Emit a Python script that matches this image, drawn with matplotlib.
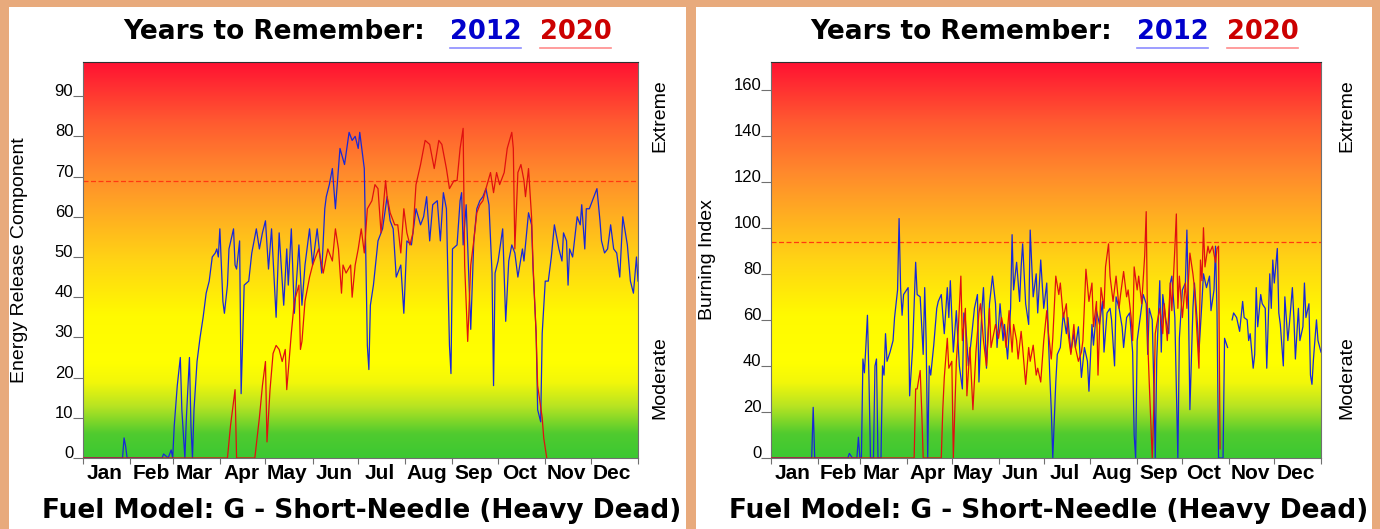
import numpy as np
import matplotlib.pyplot as plt
from matplotlib.colors import LinearSegmentedColormap
from matplotlib.patches import Rectangle
from matplotlib.lines import Line2D

W, H = 1380, 529

months = ['Jan', 'Feb', 'Mar', 'Apr', 'May', 'Jun', 'Jul', 'Aug', 'Sep', 'Oct', 'Nov', 'Dec']
month_start = [0, 31, 59, 90, 120, 151, 181, 212, 243, 273, 304, 334, 365]

# (day of year, value)
erc_2012 = [
    (0, 0), (26, 0), (27, 5), (28, 3), (29, 0), (52, 0), (53, 1), (56, 0), (58, 2), (59, 0),
    (60, 8), (62, 18), (64, 25), (65, 12), (67, 0), (68, 10), (70, 25), (71, 8), (72, 0), (73, 12),
    (75, 24), (77, 30), (79, 35), (81, 41), (83, 44), (85, 50), (87, 51), (88, 52), (89, 50), (90, 57),
    (92, 39), (93, 36), (95, 43), (96, 52), (99, 57), (100, 48), (101, 47), (103, 54), (104, 16), (106, 43),
    (109, 44), (111, 51), (114, 57), (116, 52), (118, 56), (120, 59), (122, 47), (124, 57), (127, 35), (129, 56),
    (131, 44), (132, 38), (134, 52), (135, 43), (137, 57), (139, 36), (142, 53), (144, 38), (146, 48), (149, 57),
    (151, 48), (154, 57), (157, 46), (159, 62), (160, 65), (162, 68), (164, 72), (166, 62), (169, 77), (172, 73),
    (175, 81), (177, 79), (179, 80), (181, 77), (182, 81), (185, 72), (187, 28), (188, 22), (189, 38), (191, 43),
    (194, 54), (197, 57), (200, 65), (202, 59), (204, 57), (206, 45), (209, 48), (211, 36), (213, 54), (216, 53),
    (219, 62), (222, 58), (224, 60), (226, 65), (228, 54), (230, 63), (233, 64), (235, 54), (237, 66), (239, 62),
    (241, 28), (242, 21), (243, 52), (246, 53), (248, 64), (249, 66), (250, 53), (252, 63), (254, 42), (255, 32),
    (257, 54), (259, 62), (261, 64), (263, 65), (265, 67), (267, 63), (269, 46), (270, 18), (271, 46), (273, 49),
    (276, 57), (278, 34), (280, 49), (282, 53), (284, 51), (286, 45), (289, 52), (290, 49), (293, 61), (295, 58),
    (296, 47), (298, 31), (299, 12), (301, 9), (302, 31), (304, 44), (306, 44), (308, 50), (310, 58), (313, 52),
    (315, 49), (316, 56), (318, 54), (319, 43), (320, 52), (322, 50), (325, 60), (327, 58), (328, 63), (330, 52),
    (331, 62), (333, 62), (336, 65), (338, 67), (340, 59), (341, 54), (343, 51), (345, 52), (347, 58), (349, 52),
    (351, 51), (353, 45), (355, 60), (358, 53), (360, 44), (362, 41), (364, 50), (365, 44),
]

erc_2020 = [
    (0, 0), (95, 0), (97, 8), (99, 14), (100, 17), (101, 0), (113, 0), (116, 10), (118, 18), (120, 24),
    (121, 4), (123, 17), (125, 26), (127, 28), (129, 27), (131, 24), (133, 27), (134, 17), (137, 31), (139, 39),
    (142, 43), (143, 27), (144, 29), (146, 39), (149, 45), (151, 48), (155, 52), (158, 46), (161, 52), (164, 49),
    (166, 57), (168, 52), (170, 41), (171, 48), (173, 46), (176, 48), (177, 40), (179, 48), (181, 52), (183, 57),
    (185, 51), (187, 62), (190, 64), (192, 68), (194, 67), (196, 56), (199, 69), (200, 65), (202, 61), (205, 58),
    (207, 58), (209, 51), (211, 62), (213, 56), (215, 53), (217, 56), (219, 68), (222, 73), (225, 79), (228, 78),
    (231, 72), (234, 79), (236, 78), (239, 72), (241, 67), (244, 69), (246, 69), (248, 77), (250, 82), (251, 48),
    (253, 29), (255, 48), (257, 54), (259, 61), (261, 63), (263, 64), (265, 67), (268, 71), (270, 66), (272, 71),
    (274, 68), (277, 71), (279, 77), (282, 81), (283, 77), (284, 52), (286, 71), (288, 73), (290, 69), (291, 65),
    (293, 72), (295, 60), (296, 48), (298, 31), (299, 18), (302, 10), (303, 5), (305, 0),
]

bi_2012 = [
    (0, 0), (27, 0), (28, 22), (29, 0), (51, 0), (52, 2), (54, 0), (57, 0), (58, 9), (59, 0),
    (60, 0), (61, 43), (62, 37), (63, 49), (64, 62), (65, 35), (66, 0), (68, 0), (69, 40), (70, 43),
    (71, 0), (73, 0), (74, 40), (75, 36), (76, 54), (77, 42), (79, 46), (81, 51), (82, 61), (84, 73),
    (85, 104), (86, 74), (87, 62), (88, 71), (91, 74), (92, 27), (94, 48), (96, 85), (97, 71), (99, 70),
    (101, 45), (102, 74), (103, 50), (104, 0), (105, 40), (106, 36), (108, 49), (110, 65), (111, 68), (113, 71),
    (115, 54), (117, 74), (118, 61), (119, 77), (121, 46), (123, 64), (125, 40), (127, 30), (128, 63), (129, 60),
    (131, 40), (133, 52), (135, 65), (137, 71), (138, 33), (140, 65), (141, 74), (143, 39), (145, 67), (147, 79),
    (149, 67), (150, 48), (152, 67), (154, 51), (155, 58), (157, 43), (159, 65), (160, 97), (161, 73), (163, 85),
    (165, 68), (166, 83), (167, 93), (169, 67), (171, 58), (172, 99), (174, 70), (176, 80), (177, 63), (179, 86),
    (181, 65), (183, 76), (184, 54), (185, 36), (186, 21), (187, 0), (189, 33), (190, 45), (192, 48), (194, 63),
    (196, 54), (197, 61), (199, 46), (201, 54), (202, 48), (204, 57), (206, 35), (208, 48), (210, 42), (211, 29),
    (213, 58), (214, 49), (216, 64), (218, 58), (220, 68), (221, 46), (223, 63), (225, 65), (226, 60), (228, 40),
    (229, 70), (231, 65), (233, 57), (234, 48), (236, 61), (238, 63), (240, 46), (241, 10), (242, 0), (243, 51),
    (245, 61), (247, 71), (249, 67), (250, 45), (251, 65), (253, 60), (254, 33), (255, 0), (256, 43), (258, 77),
    (259, 46), (260, 71), (262, 60), (264, 54), (265, 76), (266, 79), (268, 61), (270, 0), (271, 52), (273, 73),
    (275, 76), (276, 99), (277, 68), (278, 21), (280, 65), (281, 76), (283, 58), (284, 46), (286, 68), (287, 80),
    (289, 74), (291, 79), (292, 64), (294, 73), (295, 92), (296, 63), (297, 0), (300, 0), (301, 52), (303, 48),
    (304, np.nan), (306, 60), (307, 63), (309, 61), (310, 58), (311, 55), (313, 68), (314, 61), (316, 60), (317, 51),
    (318, 54), (320, 39), (321, 45), (322, 74), (323, 57), (325, 71), (326, 67), (328, 65), (329, 39), (331, 80),
    (332, 65), (333, 86), (334, 76), (336, 91), (337, 63), (338, 58), (340, 40), (341, 70), (343, 51), (344, 58),
    (346, 74), (347, 61), (348, 43), (350, 65), (351, 51), (353, 57), (354, 76), (355, 61), (357, 67), (358, 36),
    (359, 32), (360, 43), (362, 60), (363, 51), (365, 46),
]

bi_2020 = [
    (0, 0), (95, 0), (96, 30), (97, 30), (99, 38), (100, 21), (101, 0), (113, 0), (114, 21), (115, 35),
    (117, 52), (118, 39), (120, 42), (121, 0), (123, 42), (124, 52), (126, 79), (127, 51), (129, 65), (130, 27),
    (132, 48), (134, 21), (136, 46), (138, 63), (139, 67), (141, 51), (143, 40), (145, 65), (146, 48), (149, 58),
    (151, 52), (153, 61), (155, 54), (156, 48), (158, 64), (160, 46), (161, 58), (163, 51), (164, 43), (166, 55),
    (167, 48), (169, 32), (171, 48), (172, 42), (174, 49), (176, 36), (177, 39), (179, 33), (181, 51), (183, 64),
    (184, 55), (186, 43), (187, 52), (189, 79), (191, 71), (192, 76), (194, 61), (196, 67), (197, 55), (199, 45),
    (201, 58), (202, 48), (204, 42), (206, 46), (207, 51), (209, 82), (211, 68), (213, 76), (214, 57), (216, 68),
    (217, 36), (219, 74), (221, 65), (222, 83), (224, 93), (225, 79), (227, 68), (229, 79), (231, 65), (232, 71),
    (234, 81), (236, 70), (237, 73), (239, 61), (240, 51), (241, 83), (243, 73), (244, 79), (246, 67), (248, 88),
    (249, 107), (250, 51), (251, 33), (253, 0), (254, 21), (255, 54), (256, 58), (258, 65), (260, 54), (261, 67),
    (263, 51), (265, 76), (266, 64), (268, 91), (269, 106), (270, 65), (271, 79), (273, 61), (275, 76), (276, 65),
    (278, 89), (280, 80), (281, 74), (284, 39), (285, 86), (286, 77), (287, 100), (288, 83), (290, 92), (291, 89),
    (293, 92), (295, 85), (296, 91), (297, 92), (298, 4),
]

erc_ticks = list(range(0, 91, 10))
bi_ticks = list(range(0, 161, 20))
erc_ymax, bi_ymax = 98.5, 172
erc_limit, bi_limit = 69, 94

frame_col = '#E8AA7C'
grad_cmap = LinearSegmentedColormap.from_list('fire', [
    (0.0, '#3CC832'), (0.06, '#50CB2F'), (0.13, '#B8E422'), (0.19, '#F2F70A'),
    (0.24, '#FFFF00'), (0.36, '#FFFA00'), (0.50, '#FFD414'), (0.62, '#FFAC22'),
    (0.72, '#FF8A2C'), (0.85, '#FF5A30'), (1.0, '#FF1232')])

tick_font = 'Liberation Sans'
head_font = 'DejaVu Sans'


def fx(x):
    return x / W


def fy(y):
    return 1 - y / H


fig = plt.figure(figsize=(W / 100, H / 100), dpi=100, facecolor=frame_col)

# white panels inside the tan frame
for x0, x1 in [(9, 686), (696, 1372)]:
    fig.add_artist(Rectangle((fx(x0), 0), fx(x1) - fx(x0), fy(7), transform=fig.transFigure,
                             facecolor='white', edgecolor='none', zorder=-5))


def panel(x0, x1, off, data12, data20, ymax, yticks, limit, ylabel):
    ax = fig.add_axes([fx(x0), fy(458), fx(x1) - fx(x0), 396 / H])
    grad = np.linspace(0, 1, 256).reshape(-1, 1)
    ax.imshow(grad, extent=[0, 365, 0, ymax], origin='lower', aspect='auto',
              cmap=grad_cmap, interpolation='bilinear', zorder=0)
    ax.axhline(limit, color='#FF3A10', lw=0.9, ls=(0, (4, 2)), zorder=1)
    d, v = np.array(data12, dtype=float).T
    ax.plot(d, v, color='#1828D8', lw=0.9, zorder=2)
    d, v = np.array(data20, dtype=float).T
    ax.plot(d, v, color='#E01010', lw=0.9, zorder=3)
    ax.set_xlim(0, 365)
    ax.set_ylim(0, ymax)

    ax.set_xticks(month_start)
    ax.set_xticklabels([])
    ax.set_xticks([m + 14 for m in month_start[:-1]], minor=True)
    ax.set_xticklabels(months, minor=True, fontfamily=tick_font, fontweight='bold', fontsize=15)
    ax.tick_params(axis='x', which='major', length=4, color='#707070')
    ax.tick_params(axis='x', which='minor', length=0, pad=4)

    ax.set_yticks(yticks)
    ax.set_yticklabels([str(t) for t in yticks], fontfamily=tick_font, fontsize=12, va='baseline')
    ax.tick_params(axis='y', length=7, pad=0, color='#707070')
    for s in ax.spines.values():
        s.set_color('#707070')
        s.set_linewidth(0.8)
    ax.spines['top'].set_color('#303030')

    fig.text(fx(20 + off), fy(260), ylabel, rotation=90, ha='center', va='center',
             fontfamily=tick_font, fontsize=14)
    fig.text(fx(660 + off), fy(116), 'Extreme', rotation=90, ha='center', va='center',
             fontfamily=tick_font, fontsize=14)
    fig.text(fx(660 + off), fy(378), 'Moderate', rotation=90, ha='center', va='center',
             fontfamily=tick_font, fontsize=14)

    # heading
    fig.text(fx(123 + off), fy(39), 'Years to Remember:', ha='left', va='baseline',
             fontfamily=head_font, fontweight='bold', fontsize=19)
    fig.text(fx(450 + off), fy(39), '2012', ha='left', va='baseline', color='#0000CC',
             fontfamily=head_font, fontweight='bold', fontsize=18.5)
    fig.text(fx(540 + off), fy(39), '2020', ha='left', va='baseline', color='#CC0000',
             fontfamily=head_font, fontweight='bold', fontsize=18.5)
    fig.add_artist(Line2D([fx(450 + off), fx(521 + off)], [fy(48), fy(48)], color='#8C8CFF', lw=1.2))
    fig.add_artist(Line2D([fx(540 + off), fx(611 + off)], [fy(48), fy(48)], color='#FF8C8C', lw=1.2))

    fig.text(fx(362 + off), fy(518), 'Fuel Model: G - Short-Needle (Heavy Dead)', ha='center',
             va='baseline', fontfamily=head_font, fontweight='bold', fontsize=19)
    return ax


panel(83, 638, 0, erc_2012, erc_2020, erc_ymax, erc_ticks, erc_limit, 'Energy Release Component')
panel(771, 1321, 687, bi_2012, bi_2020, bi_ymax, bi_ticks, bi_limit, 'Burning Index')

fig.savefig('out.png', dpi=100, facecolor=frame_col)
